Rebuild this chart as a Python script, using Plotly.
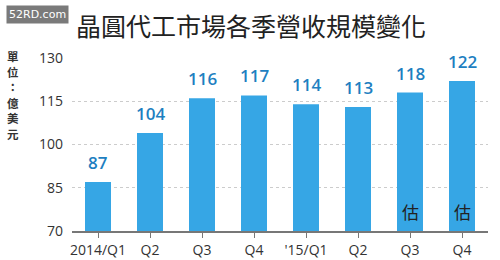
import plotly.graph_objects as go

categories = ["2014/Q1", "Q2", "Q3", "Q4", "'15/Q1", "Q2", "Q3", "Q4"]
values = [87, 104, 116, 117, 114, 113, 118, 122]
estimated = [False, False, False, False, False, False, True, True]
y_ticks = [70, 85, 100, 115, 130]
unit_chars = ["單", "位", "：", "億", "美", "元"]

x = list(range(len(categories)))
FONT = "Open Sans, Liberation Sans, Arial"

fig = go.Figure()
fig.add_trace(go.Bar(
    x=x, y=values, width=0.5,
    marker=dict(color="#36a6e5", line=dict(width=0)),
    hoverinfo="skip",
))

for xi, v in zip(x, values):
    fig.add_annotation(x=xi, y=v, text=str(v), showarrow=False, yanchor="bottom",
                       yshift=6, font=dict(size=17, color="#1e7fc1", family=FONT, weight=600))
for xi, e in zip(x, estimated):
    if e:
        fig.add_annotation(x=xi, y=70, text="估", showarrow=False, yanchor="bottom",
                           yshift=5, font=dict(size=17, color="#222222", family="Noto Sans CJK TC"))

fig.update_layout(
    width=500, height=260,
    margin=dict(l=72, r=12, t=58, b=29),
    paper_bgcolor="white", plot_bgcolor="white",
    showlegend=False,
    xaxis=dict(
        tickvals=x, ticktext=categories, range=[-0.5, 7.5],
        showline=True, linecolor="#777777", linewidth=1.5,
        ticks="outside", ticklen=5, tickcolor="#777777",
        automargin=False,
        showgrid=False, tickfont=dict(size=14, color="#333333", family=FONT),
        fixedrange=True,
    ),
    yaxis=dict(
        range=[70, 130], tickvals=y_ticks, showline=False, zeroline=False,
        showgrid=True, gridcolor="#cccccc", griddash="3px,3px", gridwidth=1,
        ticks="", ticklabelstandoff=8, automargin=False,
        tickfont=dict(size=14, color="#333333", family=FONT),
        fixedrange=True,
    ),
)

# Title
fig.add_annotation(xref="paper", yref="paper", x=(251 - 72) / 416, y=1, yshift=33,
                   xanchor="center", yanchor="middle", showarrow=False,
                   text="晶圓代工市場各季營收規模變化",
                   font=dict(size=25, color="#222222", family="Noto Sans CJK TC"))
# Watermark box
fig.add_annotation(xref="paper", yref="paper", x=-72 / 416, xshift=6, y=1, yshift=44,
                   xanchor="left", yanchor="middle", showarrow=False,
                   text="52RD.com", bgcolor="#7a7a7a", borderpad=2,
                   font=dict(size=11, color="white", family="DejaVu Sans"))
# Unit label (vertical)
for i, ch in enumerate(unit_chars):
    fig.add_annotation(xref="paper", yref="paper", x=-59 / 416, y=1, yshift=-(i * 15.5) + 2,
                       xanchor="center", yanchor="middle", showarrow=False, borderpad=0,
                       text=ch, font=dict(size=11.5, color="#333333", family="Noto Sans CJK TC", weight=700))

fig.write_html("out.html")
